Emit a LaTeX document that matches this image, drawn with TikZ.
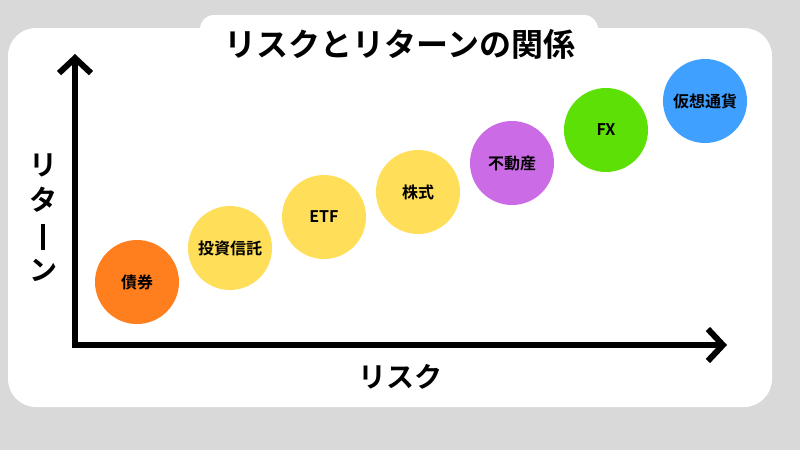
\documentclass[tikz,border=0pt]{standalone}
\usepackage{fontspec}
\newfontfamily\cjk{Noto Sans CJK JP}[BoldFont={Noto Sans CJK JP Bold}]
\usetikzlibrary{arrows.meta}
\definecolor{bg}{HTML}{D9D9D9}
\definecolor{corange}{HTML}{FF7F1F}
\definecolor{cyellow}{HTML}{FFDE59}
\definecolor{cpurple}{HTML}{CB6CE6}
\definecolor{cgreen}{HTML}{5CE005}
\definecolor{cblue}{HTML}{40A0FF}
\tikzset{
  bub/.style={circle,minimum size=84pt,inner sep=0pt,font=\cjk\bfseries\fontsize{16}{16}\selectfont},
  ax/.style={line width=6pt,-{Straight Barb[length=15pt,width=32pt,line width=6pt]}},
  big/.style={font=\cjk\bfseries\fontsize{28}{28}\selectfont},
}
\begin{document}
\begin{tikzpicture}[x=1pt,y=-1pt]
\fill[bg] (0,0) rectangle (800,450);
\useasboundingbox (0,0) rectangle (800,450);
\fill[white,rounded corners=28pt] (8,28) rectangle (772,407);
\fill[white,rounded corners=14pt] (200,15) rectangle (598,60);
\node[font=\cjk\bfseries\fontsize{32}{32}\selectfont] (title) at (400,44) {リスクとリターンの関係};
\coordinate (o) at (75,345);
\coordinate (ytop) at (75,54);
\coordinate (xend) at (727,345);
\draw[ax] ([yshift=3pt]o) -- (ytop);
\draw[ax] ([xshift=-3pt]o) -- (xend);
\node[big,align=center] (ylab) at (43,218) {リ\\[7pt]タ\\[7pt]\rule[-4pt]{3.2pt}{26pt}\\[7pt]ン};
\node[big] (xlab) at (400,377) {リスク};
\node[bub,fill=corange] (a) at (137,282) {債券};
\node[bub,fill=cyellow] (b) at (230,248) {投資信託};
\node[bub,fill=cyellow] (c) at (324,217) {ETF};
\node[bub,fill=cyellow] (d) at (418,192) {株式};
\node[bub,fill=cpurple] (e) at (512,163) {不動産};
\node[bub,fill=cgreen] (f) at (606,130) {FX};
\node[bub,fill=cblue] (g) at (705,101) {仮想通貨};
\end{tikzpicture}
\end{document}
